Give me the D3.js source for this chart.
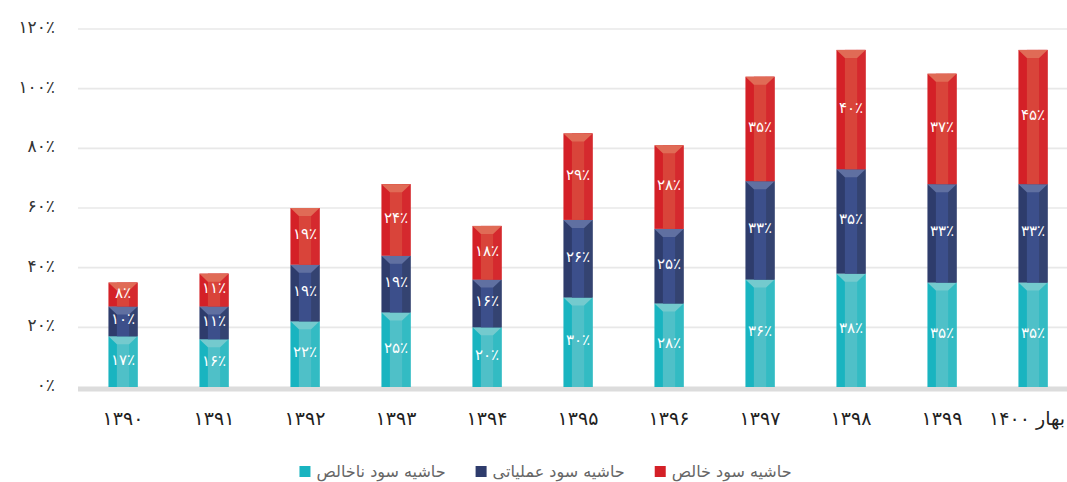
<!DOCTYPE html>
<html>
<head>
<meta charset="utf-8">
<script src="https://cdn.jsdelivr.net/npm/d3@7"></script>
<style>
  body { margin: 0; background: #fff; }
  svg { display: block; font-family: "DejaVu Sans", sans-serif; }
</style>
</head>
<body>
<svg id="mainSvg" width="1067" height="482"></svg>
<script>
// years along the x axis (last one is spring 1400)
var years = ["۱۳۹۰", "۱۳۹۱", "۱۳۹۲", "۱۳۹۳", "۱۳۹۴", "۱۳۹۵", "۱۳۹۶", "۱۳۹۷", "۱۳۹۸", "۱۳۹۹", "بهار ۱۴۰۰"];
// margins in percent, stacked bottom to top
var grossMargin = [17, 16, 22, 25, 20, 30, 28, 36, 38, 35, 35];
var operatingMargin = [10, 11, 19, 19, 16, 26, 25, 33, 35, 33, 33];
var netMargin = [8, 11, 19, 24, 18, 29, 28, 35, 40, 37, 45];
var seriesNames = ["حاشیه سود ناخالص", "حاشیه سود عملیاتی", "حاشیه سود خالص"];
var yTicks = [0, 20, 40, 60, 80, 100, 120];

// colours for each series: left strip, middle, right strip, top cap
var palette = [
    {left: "#19b4c0", mid: "#4fc0c8", right: "#33bbc3", top: "#74cace"},
    {left: "#2e3c6c", mid: "#3c4f8b", right: "#344371", top: "#6070a1"},
    {left: "#d42027", mid: "#d9443a", right: "#d5292e", top: "#e06b56"}
];

// convert latin digits to persian ones
function fa(s) {
    return String(s).replace(/[0-9]/g, function (c) { return "۰۱۲۳۴۵۶۷۸۹"[+c]; });
}

var svg = d3.select("#mainSvg");
var left = 77.5, right = 1078.5;

var x = d3.scaleBand().domain(years).range([left, right]).paddingInner(0.68).paddingOuter(0.34);
var y = d3.scaleLinear().domain([0, 120]).range([387, 29]);

// gridlines
svg.selectAll(".grid").data(yTicks.slice(1)).enter().append("line")
    .attr("x1", 78).attr("x2", 1067)
    .attr("y1", function (d) { return y(d); }).attr("y2", function (d) { return y(d); })
    .style("stroke", "#e8e8e8").style("stroke-width", 1.6);

// thick grey base band
svg.append("rect").attr("x", 78).attr("y", y(0) - 0.5).attr("width", 989).attr("height", 5)
    .style("fill", "#dcdcdc");

// y labels
svg.selectAll(".ylab").data(yTicks).enter().append("text")
    .attr("x", 55).attr("y", function (d) { return y(d) + 4; })
    .attr("text-anchor", "end").style("font-size", "17px").style("fill", "#333")
    .text(function (d) { return fa(d) + "٪"; });

// stack the three series
var rows = years.map(function (yr, i) {
    return {year: yr, s0: grossMargin[i], s1: operatingMargin[i], s2: netMargin[i]};
});
var stack = d3.stack().keys(["s0", "s1", "s2"])(rows);

var bw = x.bandwidth();
stack.forEach(function (layer, k) {
    var col = palette[k];
    var g = svg.append("g");
    var seg = g.selectAll("g").data(layer).enter().append("g");
    // left strip colour as base
    seg.append("rect")
        .attr("x", function (d) { return x(d.data.year); })
        .attr("y", function (d) { return y(d[1]); })
        .attr("width", bw)
        .attr("height", function (d) { return y(d[0]) - y(d[1]); })
        .style("fill", col.left);
    // right strip
    seg.append("rect")
        .attr("x", function (d) { return x(d.data.year) + bw * 0.7; })
        .attr("y", function (d) { return y(d[1]); })
        .attr("width", bw * 0.3)
        .attr("height", function (d) { return y(d[0]) - y(d[1]); })
        .style("fill", col.right);
    // lighter middle
    seg.append("rect")
        .attr("x", function (d) { return x(d.data.year) + bw * 0.29; })
        .attr("y", function (d) { return y(d[1]); })
        .attr("width", bw * 0.42)
        .attr("height", function (d) { return y(d[0]) - y(d[1]); })
        .style("fill", col.mid);
    // bevelled top cap
    seg.append("polygon")
        .attr("points", function (d) {
            var x0 = x(d.data.year), yt = y(d[1]);
            return [[x0, yt], [x0 + bw, yt], [x0 + bw * 0.71, yt + 8], [x0 + bw * 0.29, yt + 8]].join(" ");
        })
        .style("fill", col.top);
    // value label
    seg.append("text")
        .attr("x", function (d) { return x(d.data.year) + bw / 2; })
        .attr("y", function (d) { return (y(d[0]) + y(d[1])) / 2 + 3; })
        .attr("text-anchor", "middle").style("font-size", "15px").style("fill", "#fff")
        .text(function (d) { return fa(d[1] - d[0]) + "٪"; });
});

// x labels; the last one is pushed in so it stays inside the picture
svg.selectAll(".xlab").data(years).enter().append("text")
    .attr("y", 425)
    .attr("text-anchor", "middle").style("font-size", "19px").style("fill", "#222")
    .text(function (d) { return d; })
    .each(function (d) {
        var cx = x(d) + bw / 2;
        var half = this.getComputedTextLength() / 2;
        d3.select(this).attr("x", Math.min(cx, 1065 - half));
    });

// legend, centred under the chart
var legend = svg.append("g");
var items = legend.selectAll("g").data(seriesNames).enter().append("g");
items.append("rect").attr("width", 11).attr("height", 11).attr("y", -11)
    .style("fill", function (d, i) { return palette[i].left; });
items.append("text").attr("x", 17).attr("y", 0)
    .style("font-size", "16px").style("fill", "#666")
    .text(function (d) { return d; });
var pos = 0;
items.each(function () {
    var w = this.getBBox().width;
    d3.select(this).attr("transform", "translate(" + pos + ",0)");
    pos += w + 30;
});
var total = pos - 30;
legend.attr("transform", "translate(" + (545.5 - total / 2) + ",477)");
</script>
</body>
</html>
